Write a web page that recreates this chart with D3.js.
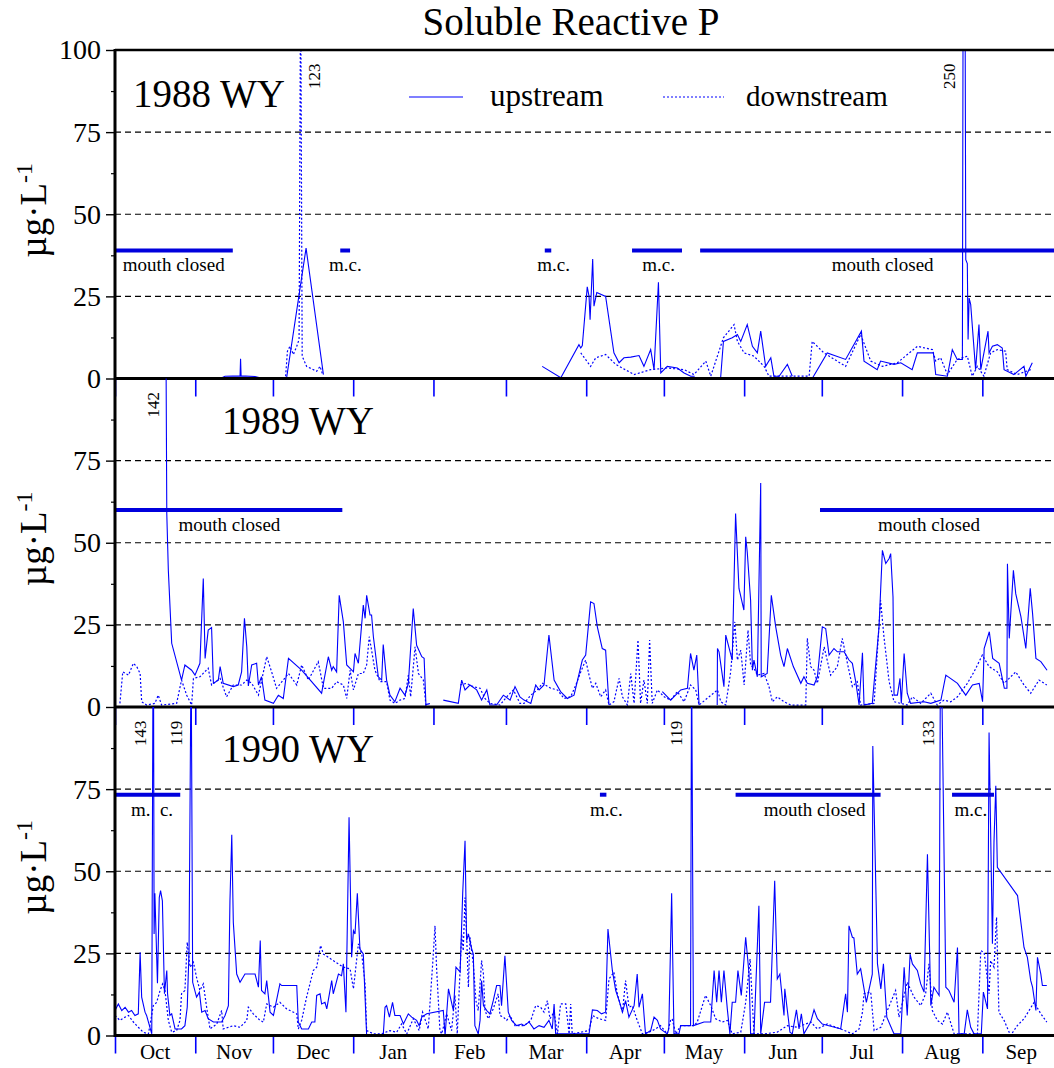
<!DOCTYPE html>
<html>
<head>
<meta charset="utf-8">
<script src="https://cdn.jsdelivr.net/npm/d3@7"></script>
<style>
body { margin: 0; background: #fff; }
text { font-family: "Liberation Serif", "Times New Roman", serif; fill: #000; }
</style>
</head>
<body>
<svg id="chart" width="1054" height="1068"></svg>
<script>
// values are [day of water year (0 = Oct 1), ug/L]; null = no sample
const up88 = [
  [40.6,0],[42.5,0.7],[48.3,0.8],[48.5,6],[48.7,0.8],[54.1,0.6],[57.2,0],[66.3,0.3],[73.8,39.7],[80.5,1.2],[81,null],
  [165.0,3.7],[172.2,0.2],[179.2,10.3],[179.9,9.3],[180.5,10],[182.4,27.9],[183.1,25],[183.5,17.9],[184.5,36.4],[185.0,22],[186.1,26.2],[189.5,25],[192.7,7.8],[194.7,4.8],[196.6,6.3],[199.2,6.5],[202.4,7],[204.3,3.7],[206.9,8.8],[208.2,2.7],[209.9,29.3],[210.8,1.7],[213.3,3.7],[217.2,3.2],[219.8,1.7],[222.4,0.7],[223.9,0.7],[224,null],
  [233.9,0],[235.0,11.3],[238.4,12.4],[240.4,13.4],[241.7,11.3],[244.2,16.4],[246.2,9.8],[248.1,7.8],[249.4,14.4],[251.3,3.7],[253.3,6.3],[254.5,0.7],[256.5,0.7],[259.7,4.3],[261.6,0.7],[262,null],
  [269.3,0],[275.1,7.8],[282.2,5.8],[288.3,14.4],[289.3,5.3],[294.4,2.7],[295.7,5.3],[300.9,4.3],[303.5,4.8],[307.9,2.7],[309.9,7.8],[316.1,7.8],[317.0,1.2],[321.5,0.7],[323.4,8.8],[325.3,5.8],[327.3,5.8],[327.9,250],[328.6,36.2],[329.2,35],[329.5,11.9],[329.9,24.5],[330.5,22.6],[332.4,2.7],[333.7,16.4],[334.4,2.7],[337.2,14.4],[337.6,7.8],[338.9,9.8],[340.8,10.3],[342.7,9.3],[343.4,2.7],[347.2,1.2],[351.1,3.7],[351.8,0.7],[354.3,4.8]
];
const down88 = [
  [65.9,0.7],[66.6,8.3],[67.6,9.8],[68.9,7.3],[70.2,9.8],[71.1,11.9],[71.7,123],[72.3,6.8],[74.0,3.7],[77.9,2.2],[79.2,3.7],[80.2,1.2],[81,null],
  [179.9,7.8],[183.7,3.7],[185.7,6.3],[189.5,7.3],[193.4,4.3],[200.5,1.2],[206.9,2.7],[213.3,3.2],[219.8,2.7],[223.6,1.2],[228.2,5.3],[230.1,0.7],[235.0,12.4],[239.1,16.4],[240.4,11.3],[243.0,7.8],[246.8,6.8],[250.7,3.7],[252.6,0.7],[268.1,0.7],[269.3,11.3],[273.8,7.8],[282.2,3.7],[288.0,13.4],[291.9,5.3],[296.4,3.7],[302.2,4.8],[309.9,9.8],[315.7,8.8],[317.0,5.3],[318.9,6.3],[321.5,1.2],[325.3,5.8],[329.2,6.8],[331.1,0.7],[333.1,3.7],[335.6,0.7],[338.2,7.8],[340.8,8.8],[344.0,8.3],[344.6,2.7],[348.5,1.2],[353.7,2.7]
];
const up89 = [
  [19.5,142],[20.0,58.9],[20.6,41.6],[21.9,19.4],[25.7,8.2],[27.0,12.8],[29.6,11.2],[30.9,9.7],[32.8,13.3],[34.1,39.1],[34.8,14.8],[36.0,23.4],[37.3,24.2],[38.0,7.2],[39.9,8.2],[40.6,12.3],[41.8,7.2],[45.7,6.2],[47.6,6.7],[48.9,10.7],[50.0,27],[50.9,18.3],[51.5,6.4],[52.8,12.8],[54.7,13.3],[55.4,6.7],[56.6,9.2],[57.9,2.1],[61.2,1.1],[63.1,3.6],[65.0,2.6],[67.0,14.8],[72.1,11.2],[79.8,4.2],[82.4,15.3],[83.7,11.2],[84.3,12.3],[85.6,10.7],[86.6,34],[88.2,25.9],[89.5,12.8],[92.1,10.7],[92.7,16.3],[94.0,13.3],[95.9,31],[96.6,27],[97.2,34],[98.5,28],[99.1,28],[99.8,21.4],[101.7,9.2],[103.0,8.2],[103.6,19],[104.9,8.2],[106.2,3.6],[108.1,1.6],[110.1,5.7],[112.0,3.6],[113.3,7.2],[115.2,30],[116.5,18.8],[118.5,15.3],[119.4,14.8],[120.1,0.6],[121.0,1],[121.5,null],
  [126.8,2.1],[132.6,1.1],[133.9,8.2],[135.2,5.2],[137.1,6.7],[139.7,5.2],[141.6,2.1],[143.6,5.2],[144.8,0.6],[147.4,0.6],[150.0,3.6],[152.6,2.1],[154.5,6.2],[156.4,3.1],
  [158.0,2.1],[160.6,1.1],[162.5,6.7],[163.8,5.2],[165.7,6.7],[167.6,21.9],[169.6,8.2],[172.1,4.7],[174.7,2.6],[177.3,3.6],[180.5,14.3],[181.8,15.8],[183.7,32],[185.0,31.5],[186.3,24.4],[188.2,17.8],[189.5,17.3],[190.8,0.6],[191.2,null],
  [211.4,4.7],[214.6,2.1],[218.5,5.2],[221.1,5.7],[222.3,16.3],[223.6,11.2],[224.7,15.8],[225.6,0.6],[226,null],
  [232.6,0.6],[232.7,17.8],[233.3,16.8],[235.2,6.2],[235.9,21.9],[238.4,14.3],[239.7,58.9],[241.0,36.1],[242.9,29.5],[243.6,51.8],[244.2,47.2],[245.5,32.5],[246.2,11.2],[246.8,14.3],[248.1,9.2],[249.4,68.2],[249.6,9.2],[251.9,10.2],[253.5,34],[255.2,24.4],[257.1,15.8],[258.4,12.3],[259.7,17.8],[262.0,12.3],[264.9,7.2],[266.1,9.2],[267.4,7.2],[270.0,6.7],[271.3,9.2],[273.2,24.4],[274.5,23.9],[275.8,15.8],[277.7,17.8],[279.0,16.8],[281.6,16.8],[283.5,14.3],[284.8,13.3],[286.1,7.7],[287.4,0.6],[288.7,16.5],[289.3,0.6],[292.5,1.1],[295.1,24.4],[296.4,47.7],[297.7,43.7],[299.0,45.2],[299.6,46.7],[300.5,33.5],[300.9,3.6],[302.2,3.6],[303.2,8.7],[303.7,1.1],[304.8,16.3],[306.0,4.2],[307.3,1.1],[312.5,1.6],[315.1,1.1],[319.0,2.1],[320.9,9.7],[325.4,7.2],[328.6,3.6],[331.2,6.7],[333.8,7.2],[335.1,1.6],[335.7,17.8],[337.7,22.9],[339.0,14.8],[341.5,13.3],[343.5,5.7],[344.5,5.7],[344.7,43.6],[345.4,20.9],[347.0,41.6],[347.9,34.5],[349.9,27.5],[351.8,17.8],[353.5,36.1],[354.4,28.5],[355.7,14.8],[357.6,13.8],[360.0,11.2]
];
const down89 = [
  [1.9,1.1],[3.0,10.7],[5.2,9.7],[7.1,13.3],[8.4,12.3],[9.7,10.2],[10.3,1.6],[12.2,0.6],[15.4,1.1],[16.7,3.6],[18.0,0.6],[23.8,1.1],[25.7,8.2],[27.7,3.6],[29.6,0.6],[30.3,8.7],[32.8,9.2],[36.0,11.8],[37.3,6.7],[40.6,8.7],[43.1,3.1],[45.7,6.7],[48.9,6.7],[50.9,8.2],[52.8,7.2],[55.4,3.6],[58.6,15.3],[60.5,10.7],[62.4,5.7],[65.0,8.2],[67.0,10.2],[70.2,6.7],[72.1,12.8],[74.7,8.2],[78.5,13.8],[80.5,5.7],[83.7,5.7],[85.6,7.7],[88.2,6.7],[89.5,2.6],[90.8,11.2],[92.1,5.2],[94.0,10.2],[95.9,10.2],[97.2,12.8],[98.2,21.4],[99.1,17.3],[100.4,11.2],[102.4,7.7],[104.9,7.7],[106.2,2.1],[108.1,1.1],[110.1,2.1],[112.0,2.6],[113.3,9.7],[114.2,3.1],[115.9,18.3],[117.2,10.2],[119.1,8.2],[120.1,0.6],[121.7,1.1],[122,null],
  [133.3,6.7],[135.8,7.2],[138.4,6.2],[141.0,5.7],[142.9,2.6],[144.8,1.1],[148.7,0.6],[151.3,3.1],[153.9,5.2],[156.4,1.1],
  [158.0,1.1],[160.6,3.6],[163.1,5.2],[165.1,7.2],[168.3,5.7],[170.9,5.2],[173.4,2.6],[176.0,3.1],[178.0,6.7],[179.9,10.7],[181.8,14.3],[183.1,9.7],[184.4,5.7],[185.7,7.2],[187.6,3.1],[189.5,5.2],[190.8,0.6],[192.7,1.6],[194.7,8.7],[196.0,3.1],[197.9,0.6],[199.2,10.2],[200.5,1.1],[202.0,20.4],[203.0,1.1],[204.3,8.2],[205.6,1.1],[206.5,20.4],[207.5,1.1],[209.5,5.2],[212.1,3.1],[214.6,2.1],[217.2,4.7],[219.8,1.6],[222.3,6.7],[224.3,5.2],[225.6,0.6],[232.7,5.2],[234.0,1.6],[235.9,0.6],[237.8,10.7],[239.4,25.9],[240.4,14.3],[241.7,17.3],[243.0,6.7],[244.5,23.4],[245.5,12.8],[246.8,11.8],[248.1,9.7],[250.7,10.2],[252.6,6.2],[253.9,1.6],[255.8,3.1],[258.4,1.6],[261.0,0.6],[266.8,0.6],[267.4,20.9],[268.7,12.3],[270.0,11.2],[271.3,7.2],[273.9,18.3],[276.4,9.7],[279.0,12.3],[280.9,20.9],[282.9,13.3],[284.8,6.2],[286.7,7.7],[288.0,0.6],[293.2,1.1],[295.7,32.5],[297.0,21.4],[299.0,7.7],[300.9,1.6],[306.0,0.6],[308.0,3.1],[311.2,1.1],[315.1,4.2],[317.6,0.6],[320.2,2.1],[322.8,1.6],[325.4,3.1],[329.2,7.2],[331.8,10.7],[335.0,15.8],[337.6,12.3],[340.8,10.7],[343.4,7.2],[347.9,10.7],[351.1,6.7],[353.7,4.2],[356.9,8.2],[359.9,6.7]
];
const up90 = [
  [0,7.6],[1.3,9.6],[2.6,7.6],[3.9,8.6],[5.2,7.1],[6.4,7.6],[7.7,6.1],[9.0,6.6],[9.7,25.3],[10.3,11.7],[11.6,7.1],[12.2,6.1],[14.2,0.5],[14.8,143],[15.1,30.9],[15.4,43.3],[16.4,15.9],[17.1,42],[17.6,44.1],[18.3,41],[19.1,12.7],[20.0,19.8],[20.3,12.7],[21.2,6.1],[21.9,6.6],[23.2,2],[25.7,2],[27.0,3],[27.9,8.6],[28.6,25.8],[29.4,119],[30.0,16.2],[31.5,11.7],[32.6,13.2],[33.5,7.1],[34.8,7.6],[36.0,5.1],[38.0,4.1],[39.9,4.1],[41.2,4.1],[42.5,6.1],[43.8,9.1],[44.4,41],[45.1,61.1],[45.7,34.4],[47.0,18.7],[48.3,16.2],[50.2,18.7],[54.1,18.7],[55.4,14.7],[56.1,28.9],[56.6,13.7],[57.9,12.7],[58.6,16.7],[59.9,7.1],[61.2,6.1],[63.7,15.7],[64.4,15.2],[70.2,15.2],[70.8,4.1],[72.1,2],[74.7,2],[76.0,4.1],[77.2,4.1],[77.9,12.2],[79.2,12.7],[79.8,9.6],[81.1,10.1],[81.8,8.1],[83.7,16.7],[84.3,12.7],[86.3,18.7],[87.5,18.2],[88.2,21.8],[89.2,7.1],[90.4,66.4],[91.4,23.8],[92.1,31.9],[92.7,30.9],[93.6,43.3],[94.6,26.3],[95.9,24.8],[97.2,0],[103.6,0],[104.3,8.6],[104.9,9.1],[106.0,5.6],[107.2,10.1],[108.1,6.1],[110.1,6.1],[111.4,3.5],[113.3,6.6],[114.6,5.6],[116.5,4.6],[117.5,3],[118.5,5.6],[120.4,6.6],[126.8,7.6],[127.5,0],[128.8,14.2],[130.7,7.6],[131.7,20.8],[133.3,19.3],[134.3,43.3],[135.2,59.3],[135.8,28.9],[136.5,30.9],[137.8,26.3],[138.4,24.8],[139.0,3],[140.3,0.5],[141.0,4.6],[141.6,16.7],[142.3,9.1],[143.6,7.6],[144.8,6.6],[146.1,10.6],[147.4,15.2],[148.7,15.2],[149.3,9.1],[150.6,24.3],[151.9,7.1],[153.2,4.6],[155.1,3],[157.1,3.5],
  [158.0,3],[159.9,4.1],[161.8,2],[163.8,3],[165.7,2.5],[167.6,4.6],[168.9,2],[169.6,9.6],[170.2,0.5],[177.3,0.5],[183.1,0.5],[184.4,7.8],[186.3,7.6],[187.9,6.6],[189.5,7.1],[190.4,32.4],[192.1,19.8],[193.4,13.7],[194.7,10.6],[196.0,7.1],[197.2,10.6],[198.5,5.6],[200.5,9.1],[201.7,18.7],[202.4,8.6],[203.7,12.7],[204.9,0.5],[206.9,1.5],[208.2,5.6],[209.5,4.6],[210.7,2],[213.3,0.5],[213.9,2],[215.0,43.3],[215.9,0.5],[217.8,0.5],[218.5,3],[222.3,3],[222.7,119],[223.4,3],[227.5,4.1],[230.1,4.1],[231.4,19.8],[232.4,10.1],[233.3,19.8],[234.2,10.1],[235.2,19.8],[236.5,8.1],[237.5,0.5],[238.4,10.1],[239.7,10.1],[240.6,19.8],[241.9,12.2],[243.6,29.9],[244.9,18.7],[245.5,0.5],[246.8,0.5],[248.7,39.5],[249.4,0.5],[250.9,10.1],[253.2,10.1],[254.8,47.1],[255.8,17.2],[256.8,18.7],[258.4,6.1],[258.7,14.2],[260.7,1],[261.6,0.5],[263.2,7.8],[264.2,2],[265.1,6.6],[266.1,0.5],[268.7,4.1],[270.0,7.8],[271.3,5.1],[273.2,3.5],[280.3,2],[282.2,12.7],[282.9,7.1],[283.5,33.4],[284.8,29.9],[285.4,29.7],[286.7,18.7],[288.0,20.3],[290.2,10.1],[292.5,18.7],[292.7,88.1],[294.5,21.8],[295.8,14.2],[296.8,21.8],[298.1,5.6],[300.3,1.5],[300.9,0.5],[303.5,0.5],[304.8,20.8],[306.0,6.1],[307.1,24.8],[308.0,21.8],[309.9,19.8],[311.2,15.7],[312.5,13.2],[313.8,55.2],[315.1,9.1],[316.3,14.7],[318.3,12.2],[318.9,133],[320.9,14.7],[322.1,13.7],[324.1,10.1],[325.4,26.8],[326.0,0.5],[328.0,0.5],[329.2,7.8],[330.5,2.5],[331.8,0.5],[334.6,0.5],[335.4,13.2],[337.0,8.1],[337.6,92.2],[338.9,27.9],[339.5,58.8],[340.2,76],[340.8,51.2],[348.6,42.6],[351.1,26.8],[352.4,23.8],[353.7,16.7],[354.4,14.7],[355.7,7.6],[356.3,23.8],[357.6,18.7],[358.2,15.2],[359.9,15.2]
];
const down90 = [
  [0,6.1],[1.9,4.6],[3.9,5.6],[5.2,6.1],[7.1,4.1],[9.0,2.5],[10.9,1],[12.9,0.5],[14.8,9.1],[16.1,10.1],[17.4,13.7],[18.4,15.7],[19.3,13.7],[20.6,4.6],[21.9,1],[23.8,1.5],[25.1,4.6],[25.7,12.7],[27.0,13.7],[27.9,28.4],[29.0,20.8],[30.3,22.3],[31.5,17.7],[32.8,13.7],[34.1,15.7],[35.4,8.6],[36.7,2],[39.3,3.5],[41.2,7.6],[41.8,2],[45.7,3],[48.3,2.5],[50.9,4.6],[51.5,8.6],[53.4,6.6],[56.0,4.6],[57.3,4.1],[58.6,9.6],[61.2,8.6],[63.7,10.1],[66.3,8.1],[70.2,6.6],[70.8,2],[72.1,4.6],[74.0,11.7],[76.6,19.8],[77.9,20.8],[79.4,27.4],[80.5,24.8],[84.3,22.8],[88.2,20.8],[90.8,20.3],[92.1,14.2],[94.0,27.9],[95.3,24.8],[96.6,15.7],[97.2,1.5],[99.8,0.5],[102.9,0.5],[106.2,1.5],[108.8,1],[110.7,3.5],[112.7,0.5],[115.2,5.1],[117.5,1.5],[118.8,7.1],[121.0,2],[122.7,21.8],[123.6,33.4],[124.2,20.8],[125.5,1.5],[126.2,0.5],[128.1,6.6],[130.0,1.5],[131.3,12.2],[132.2,0.5],[133.9,30.9],[134.5,25.8],[135.2,42],[135.8,30.9],[136.5,14.7],[137.1,29.9],[138.4,21.8],[139.4,10.6],[140.3,7.6],[141.6,22.8],[142.3,18.7],[142.9,7.6],[144.2,5.1],[146.1,8.1],[148.0,12.7],[148.7,6.1],[150.0,5.6],[151.3,4.6],[152.6,6.1],[154.5,3],[157.1,3],
  [158.0,3],[160.6,4.6],[162.5,9.1],[164.4,8.6],[165.7,7.1],[167.0,10.6],[168.0,5.1],[169.6,7.1],[170.9,0.5],[172.1,9.6],[174.1,9.6],[175.4,0.5],[176.0,9.6],[176.6,0.5],[183.1,1.5],[184.4,6.1],[186.9,5.1],[189.5,4.6],[190.8,17.2],[192.7,19.3],[194.0,12.7],[196.0,7.1],[197.2,16.7],[198.5,8.6],[199.8,9.1],[201.7,4.6],[203.7,0.5],[206.3,1],[208.8,2],[210.7,3],[213.3,0.5],[214.6,4.6],[215.2,5.1],[216.6,0.5],[218.5,3],[221.7,3],[223.6,3],[224.9,4.1],[228.1,12.2],[230.1,9.1],[232.0,5.1],[234.6,4.1],[236.5,4.6],[238.4,0.5],[241.7,1],[243.6,10.1],[245.3,23.3],[246.8,0.5],[250.7,0.5],[255.8,1],[259.7,3],[263.5,2.5],[268.7,4.1],[271.3,2],[275.1,3.5],[280.3,2],[284.8,0.5],[287.4,2],[288.7,7.1],[289.3,12.7],[291.9,13.2],[293.2,1.5],[295.8,2.5],[298.3,7.6],[301.5,13.7],[302.8,5.6],[306.0,16.2],[308.6,11.7],[311.2,9.1],[313.1,12.7],[314.4,21.8],[315.7,7.6],[317.6,4.6],[319.6,3.5],[321.5,7.1],[324.1,0.5],[328.0,0.5],[330.5,0.5],[333.1,0.5],[334.4,25.8],[335.7,25.3],[337.6,12.7],[338.2,22.8],[339.5,20.8],[340.5,36],[341.4,7.1],[343.4,4.6],[345.9,0],[348.5,3],[351.1,5.1],[355.0,10.1],[357.6,6.6],[359.9,4.1]
];

// mouth closed periods: [start day, end day, label, label day]
const closed88 = [[0,45.5,"mouth closed",22.7],[87,90.8,"m.c.",89],[166,168.5,"m.c.",169.4],[199.7,219,"m.c.",210],[226,365,"mouth closed",296.5]];
const closed89 = [[0,87.8,"mouth closed",44.2],[272.3,365,"mouth closed",314.4]];
const closed90 = [[0,25.2,"m.  c.",14.3],[187.3,189.8,"m.c.",189.8],[239.7,295.7,"mouth closed",270.2],[323.3,339.5,"m.c.",330.6]];
const closedLevel = [39, 60, 73.3];

// off-scale peaks: [label day, value text]
const peaks88 = [[76.9,"123"],[322.3,"250"]];
const peaks89 = [[14.7,"142"]];
const peaks90 = [[9.7,"143"],[23.8,"119"],[217,"119"],[314.4,"133"]];

const yearLabels = ["1988 WY", "1989 WY", "1990 WY"];
const yTicks = [0, 25, 50, 75, 100];
const yMinor = [12.5, 37.5, 62.5, 87.5];

const panels = [
  {name: yearLabels[0], up: up88, down: down88, closed: closed88, peaks: peaks88},
  {name: yearLabels[1], up: up89, down: down89, closed: closed89, peaks: peaks89},
  {name: yearLabels[2], up: up90, down: down90, closed: closed90, peaks: peaks90}
];

const W = 1054, left = 115, panelH = 328.5, top0 = 50;
const blue = "#0000ff";
const svg = d3.select("#chart");

// water year axis: Oct 1 .. Oct 1
const wyStart = new Date(1988, 9, 1), wyEnd = new Date(1989, 9, 1);
const months = d3.timeMonth.range(wyStart, wyEnd);
const monthDays = months.map(m => d3.timeDay.count(wyStart, m));
const x = d3.scaleLinear().domain([0, d3.timeDay.count(wyStart, wyEnd)]).range([left, 1060]);

svg.append("text")
  .attr("x", 571).attr("y", 35)
  .attr("text-anchor", "middle")
  .style("font-size", "39px")
  .text("Soluble Reactive P");

panels.forEach((p, i) => {
  let top = top0 + i * panelH, bottom = top + panelH;
  let y = d3.scaleLinear().domain([0, 100]).range([bottom, top]);
  let g = svg.append("g");

  svg.append("clipPath").attr("id", "clip" + i)
    .append("rect").attr("x", left).attr("y", top).attr("width", W - left).attr("height", panelH);

  // dashed grid
  g.selectAll(".grid")
    .data(i == 0 ? [25, 50, 75, 100] : [25, 50, 75])
    .enter().append("line")
    .attr("x1", left).attr("x2", W)
    .attr("y1", d => y(d)).attr("y2", d => y(d))
    .attr("stroke", "#000").attr("stroke-width", 1.2)
    .attr("stroke-dasharray", "6,4");

  let line = d3.line()
    .defined(d => d[1] != null)
    .x(d => x(d[0]))
    .y(d => y(d[1]));
  let lg = g.append("g").attr("clip-path", `url(#clip${i})`);
  lg.append("path").datum(p.down)
    .attr("d", line).attr("fill", "none")
    .attr("stroke", blue).attr("stroke-width", 1.2)
    .attr("stroke-dasharray", "2,2");
  lg.append("path").datum(p.up)
    .attr("d", line).attr("fill", "none")
    .attr("stroke", blue).attr("stroke-width", 1.1);

  // mouth closed bars
  let cg = g.append("g").attr("clip-path", `url(#clip${i})`);
  cg.selectAll("line").data(p.closed).enter().append("line")
    .attr("x1", d => x(d[0])).attr("x2", d => x(d[1]))
    .attr("y1", y(closedLevel[i])).attr("y2", y(closedLevel[i]))
    .attr("stroke", "#0000dd").attr("stroke-width", 4);
  g.selectAll(".mc").data(p.closed).enter().append("text")
    .attr("x", d => x(d[3]))
    .attr("y", y(closedLevel[i]) + 21)
    .attr("text-anchor", "middle")
    .style("font-size", "19px")
    .style("white-space", "pre")
    .text(d => d[2]);

  // off-scale peak values
  g.selectAll(".pk").data(p.peaks).enter().append("text")
    .attr("transform", d => `translate(${x(d[0])},${y(92)}) rotate(-90)`)
    .attr("text-anchor", "middle")
    .attr("dominant-baseline", "central")
    .style("font-size", "17px")
    .text(d => d[1]);

  // year label
  g.append("text")
    .attr("x", i == 0 ? 133 : 222)
    .attr("y", i == 0 ? 107 : top + 55)
    .style("font-size", "39px")
    .text(p.name);

  // month ticks
  let xa = g.append("g").attr("transform", `translate(0,${bottom})`)
    .call(d3.axisBottom(x).tickValues(monthDays).tickSize(18).tickFormat(""));
  xa.select(".domain").remove();
  xa.selectAll(".tick line").attr("stroke", blue).attr("stroke-width", 1.6);

  // y axis
  let ya = g.append("g").attr("transform", `translate(${left},0)`)
    .call(d3.axisLeft(y).tickValues(i == 0 ? yTicks : yTicks.slice(0, 4)).tickSize(9).tickPadding(5));
  ya.select(".domain").remove();
  ya.selectAll(".tick line").attr("stroke", "#000").attr("stroke-width", 1.4);
  ya.selectAll(".tick text")
    .style("font-family", '"Liberation Serif", serif')
    .style("font-size", "28px").attr("fill", "#000");
  let ym = g.append("g").attr("transform", `translate(${left},0)`)
    .call(d3.axisLeft(y).tickValues(yMinor).tickSize(4).tickFormat(""));
  ym.select(".domain").remove();
  ym.selectAll(".tick line").attr("stroke", "#000").attr("stroke-width", 1.2);

  // axis title
  let t = g.append("text")
    .attr("transform", `translate(46,${(top + bottom) / 2 - 4}) rotate(-90)`)
    .attr("text-anchor", "middle")
    .style("font-size", "37px");
  t.append("tspan").text("\u00b5g\u00b7L");
  t.append("tspan").attr("dy", -14).style("font-size", "24px").text("-1");

  // frame
  g.append("line").attr("x1", left).attr("x2", W).attr("y1", bottom).attr("y2", bottom)
    .attr("stroke", "#000").attr("stroke-width", 3);
  if (i == 0) {
    g.append("line").attr("x1", left).attr("x2", W).attr("y1", top).attr("y2", top)
      .attr("stroke", "#000").attr("stroke-width", 2.5);
  }
});

svg.append("line").attr("x1", left).attr("x2", left)
  .attr("y1", top0 - 1).attr("y2", top0 + 3 * panelH + 1.5)
  .attr("stroke", "#000").attr("stroke-width", 3);

// month labels under the bottom panel
svg.selectAll(".month").data(months).enter().append("text")
  .attr("x", m => x(d3.timeDay.count(wyStart, m) + d3.timeDay.count(m, d3.timeMonth.offset(m, 1)) / 2))
  .attr("y", 1059)
  .attr("text-anchor", "middle")
  .style("font-size", "21px")
  .text(d3.timeFormat("%b"));

// legend
const legend = svg.append("g");
legend.append("line").attr("x1", 409).attr("x2", 463).attr("y1", 97).attr("y2", 97)
  .attr("stroke", blue).attr("stroke-width", 1.1);
legend.append("text").attr("x", 490).attr("y", 106).style("font-size", "31px").text("upstream");
legend.append("line").attr("x1", 663).attr("x2", 724).attr("y1", 97).attr("y2", 97)
  .attr("stroke", blue).attr("stroke-width", 1.2).attr("stroke-dasharray", "2,2");
legend.append("text").attr("x", 746).attr("y", 106).style("font-size", "29px").text("downstream");
</script>
